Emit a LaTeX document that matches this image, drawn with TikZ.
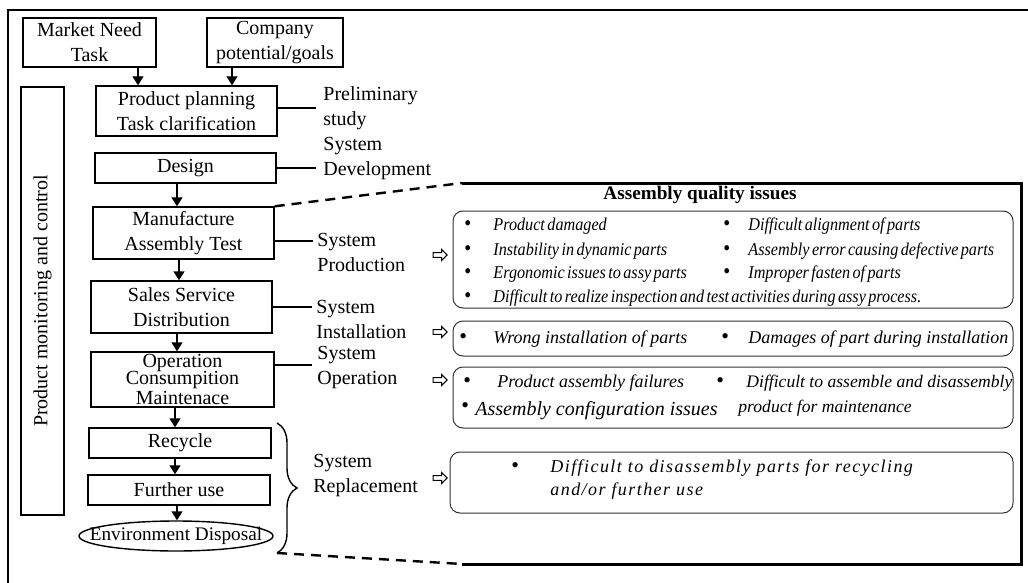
\documentclass[tikz,border=0pt]{standalone}
\usepackage{fontspec}
\setmainfont{Liberation Serif}
\newfontfamily\issuefont[WordSpace=0.6,FakeStretch=0.9]{Liberation Serif}
\newfontfamily\widefont[LetterSpace=8]{Liberation Serif}
\newcommand{\issuedot}{{\upshape\fontsize{11}{11}\selectfont\textbullet}}
\usetikzlibrary{arrows.meta,positioning}
\usetikzlibrary{calc}
\usetikzlibrary{shapes.geometric,shapes.arrows}
\usetikzlibrary{decorations.pathreplacing}

\begin{document}
\begin{tikzpicture}[x=0.5pt,y=-0.5pt,
    stage/.style={draw, line width=0.7pt, inner sep=0pt, align=center, font=\fontsize{10}{12.5}\selectfont},
    link/.style={-{Triangle[width=5.5pt,length=4.5pt]}, line width=0.7pt},
    sidetext/.style={anchor=west, align=left, inner sep=0pt, font=\fontsize{10}{12.5}\selectfont},
    issuebox/.style={draw=black!80, rounded corners=5pt, line width=0.5pt, inner sep=0pt},
    hollow/.style={single arrow, draw, fill=white, line width=0.5pt, inner sep=0.9pt, single arrow head extend=1.6pt, minimum height=7pt},
    issue/.style={anchor=base west, inner sep=0pt, font=\issuefont\itshape\fontsize{9}{10}\selectfont},
    issuebig/.style={anchor=base west, inner sep=0pt, font=\itshape\fontsize{9}{11}\selectfont},
    zoomline/.style={dash pattern=on 5pt off 3.5pt, line width=1.2pt}
]
\useasboundingbox (0,0) rectangle (1028,583);

        % outer frame
        \draw[line width=1pt] (8,583) -- (8,10) -- (1028,10);

        % life cycle stages
        \node[stage, minimum width=66.5pt, minimum height=24.5pt] (market) at (89.5,42.5) {Market Need\\Task};
        \node[stage, minimum width=68pt, minimum height=24.5pt] (company) at (275,42.5) {Company\\potential/goals};
        \node[stage, minimum width=90.5pt, minimum height=25pt] (plan) at (186.5,111) {Product planning\\Task clarification};
        \node[stage, minimum width=90.5pt, minimum height=15pt] (design) at (185.5,168) {Design};
        \node[stage, minimum width=90.5pt, minimum height=26pt] (manuf) at (183.5,233) {Manufacture\\Assembly Test};
        \node[stage, minimum width=90.5pt, minimum height=26pt] (sales) at (181.5,307) {Sales Service\\Distribution};
        \node[stage, minimum width=91.5pt, minimum height=27.5pt] (oper) at (182.5,379.5) {Operation\\[-4pt]Consumpition\\[-2.5pt]Maintenace};
        \node[stage, minimum width=91pt, minimum height=15pt] (recycle) at (180,443) {Recycle};
        \node[stage, minimum width=91pt, minimum height=15pt] (further) at (179,490) {Further use};
        \node[stage, draw=none, minimum width=96pt, minimum height=15pt, font=\fontsize{9.6}{12}\selectfont] (disposal) at (176,536) {Environment Disposal};
        \draw[line width=0.7pt] (disposal.center) ellipse [x radius=97, y radius=15];

        \node[draw, line width=1pt, rotate=90, minimum width=214pt, minimum height=21.5pt, inner sep=0pt, font=\fontsize{10}{12}\selectfont] (monitor) at (42.5,301) {Product monitoring and control};

        % arrows between stages
        \draw[link] ([xshift=24.25pt]market.south) -- ([xshift=24.25pt]market.south |- plan.north);
        \draw[link] ([xshift=-21.5pt]company.south) -- ([xshift=-21.5pt]company.south |- plan.north);
        \draw[link] ([xshift=-4.25pt]design.south) -- ([xshift=-4.25pt]design.south |- manuf.north);
        \draw[link] ([xshift=-2.25pt]manuf.south) -- ([xshift=-2.25pt]manuf.south |- sales.north);
        \draw[link] ([xshift=-2.25pt]sales.south) -- ([xshift=-2.25pt]sales.south |- oper.north);
        \draw[link] ([xshift=-3.75pt]oper.south) -- ([xshift=-3.75pt]oper.south |- recycle.north);
        \draw[link] ([xshift=-2.5pt]recycle.south) -- ([xshift=-2.5pt]recycle.south |- further.north);
        \draw[link] ([xshift=-1pt]further.south) -- ([xshift=-1pt]further.south |- disposal.north);

        % system phases
        \node[sidetext] (lprelim) at (323,133) {Preliminary\\study\\System\\Development};
        \node[sidetext] (lprod) at (317,252) {System\\Production};
        \node[sidetext] (linst) at (316,319.5) {System\\Installation};
        \node[sidetext] (loper) at (317,368) {System\\Operation};
        \node[sidetext] (lrepl) at (313,475.5) {System\\Replacement};
        \draw[line width=0.6pt] ([yshift=1.5pt]plan.east) -- ++(38,0);
        \draw[line width=0.6pt] (design.east) -- ++(39,0);
        \draw[line width=0.6pt] ([yshift=-4pt]manuf.east) -- ++(38,0);
        \draw[line width=0.6pt] (sales.east) -- ++(39,0);
        \draw[line width=0.6pt] ([yshift=7.25pt]oper.east) -- ++(37,0);
        \coordinate (bracetop) at (277,423);
        \coordinate (bracebot) at (277,553);
        \draw[decorate, decoration={brace, amplitude=10pt}, line width=0.7pt] (bracetop) -- (bracebot);

        % zoomed frame
        \coordinate (ztop) at (462,183);
        \coordinate (zbot) at (462,564);
        \draw[zoomline] (manuf.north east) -- (ztop);
        \draw[zoomline] (bracebot) -- (zbot);
        \draw[line width=1.5pt] (ztop) -- (1021,183) -- (1021,564) -- (zbot);
        \node[font=\bfseries\fontsize{9.6}{11}\selectfont] (title) at (700,195) {Assembly quality issues};

        % issue boxes
        \node[issuebox, minimum width=280pt, minimum height=48.5pt] (prodbox) at (733,259.5) {};
        \node[issuebox, minimum width=280pt, minimum height=17.5pt] (instbox) at (733,338.5) {};
        \node[issuebox, minimum width=280pt, minimum height=30.5pt] (operbox) at (733,397.5) {};
        \node[issuebox, minimum width=281.5pt, minimum height=30.5pt] (replbox) at (731.5,482.5) {};
        \node[hollow] (a1) at (439,255) {};
        \node[hollow] (a2) at (439,332) {};
        \node[hollow] (a3) at (439,380) {};
        \node[hollow] (a4) at (439,478) {};

        \node[issue] (p1) at (464,230) {\makebox[14.5pt][l]{\issuedot}Product damaged};
        \node[issue] (p2) at (464,255) {\makebox[14.5pt][l]{\issuedot}Instability in dynamic parts};
        \node[issue] (p3) at (464,278) {\makebox[14.5pt][l]{\issuedot}Ergonomic issues to assy parts};
        \node[issue] (p4) at (464,302) {\makebox[14.5pt][l]{\issuedot}Difficult to realize inspection and test activities during assy process.};
        \node[issue] (p5) at (723,230) {\makebox[12.5pt][l]{\issuedot}Difficult alignment of parts};
        \node[issue] (p6) at (723,255) {\makebox[12.5pt][l]{\issuedot}Assembly error causing defective parts};
        \node[issue] (p7) at (723,278) {\makebox[12.5pt][l]{\issuedot}Improper fasten of parts};

        \node[issuebig] (i1) at (459,343) {\makebox[17pt][l]{\issuedot}Wrong installation of parts};
        \node[issuebig] (i2) at (721,343) {\makebox[13.5pt][l]{\issuedot}Damages of part during installation};

        \node[issuebig] (o1) at (463,387) {\makebox[17pt][l]{\issuedot}Product assembly failures};
        \node[issuebig, font=\itshape\fontsize{8.8}{11}\selectfont] (o2) at (716,387) {\makebox[15pt][l]{\issuedot}Difficult to assemble and disassembly};
        \node[issuebig, font=\itshape\fontsize{8.8}{11}\selectfont] (o3) at (738,412) {product for maintenance};
        \node[issuebig, font=\itshape\fontsize{10}{12}\selectfont] (o4) at (461,415) {\makebox[7pt][l]{\raisebox{1.5pt}{\issuedot}}Assembly configuration issues};

        \node[issuebig, font=\widefont\itshape\fontsize{9}{11}\selectfont] (r1) at (511,472) {\makebox[19.5pt][l]{\issuedot}Difficult to disassembly parts for recycling};
        \node[issuebig, font=\widefont\itshape\fontsize{9}{11}\selectfont] (r2) at (550,495) {and/or further use};
    \end{tikzpicture}
\end{document}
